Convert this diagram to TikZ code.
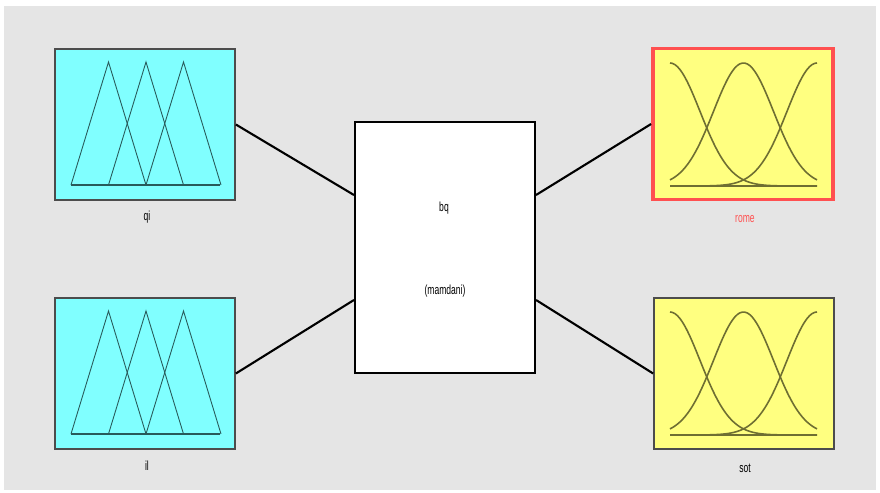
\documentclass[tikz,border=0pt]{standalone}
\usepackage{fontspec}
\setmainfont{Liberation Sans}
\definecolor{panel}{RGB}{229,229,229}
\definecolor{incyan}{RGB}{128,255,255}
\definecolor{outyellow}{RGB}{255,255,128}
\definecolor{mfline}{RGB}{40,90,90}
\definecolor{gaussline}{RGB}{110,110,50}
\definecolor{selred}{RGB}{255,80,80}
\tikzset{
  varbox/.style={draw=black!70, line width=1pt, minimum width=3.6cm, minimum height=3.02cm, inner sep=0pt},
  inbox/.style={varbox, fill=incyan},
  outbox/.style={varbox, fill=outyellow},
  fisbox/.style={draw=black, line width=1.2pt, fill=white, minimum width=3.6cm, minimum height=5.02cm, inner sep=0pt},
  varlabel/.style={font=\fontsize{7.5}{8}\selectfont, xscale=0.65, inner sep=0pt},
  link/.style={line width=1.2pt},
  trimf/.style={draw=mfline, line width=0.5pt},
  gaussmf/.style={draw=gaussline, line width=0.9pt, smooth}
}
\begin{document}
\begin{tikzpicture}[x=0.02cm, y=-0.02cm]
    % Frame and background
    \useasboundingbox (0,0) rectangle (880,493);
    \fill[white] (0,0) rectangle (880,493);
    \fill[panel] (4,6) rectangle (876,490);

    % Input variables
    \node[inbox] (qi) at (145,124.5) {};
    \node[inbox] (il) at (145,373.5) {};

    % Rule box
    \node[fisbox] (fis) at (445,247.5) {};
    \node[varlabel] (fisname) at (444,208) {bq};
    \node[varlabel] (fistype) at (445,291) {(mamdani)};

    % Output variables
    \node[outbox, draw=selred, line width=2.2pt] (rome) at (743,124) {};
    \node[outbox] (sot) at (744,373.5) {};

    % Labels under the boxes
    \node[varlabel] (qilabel) at (147,217) {qi};
    \node[varlabel] (illabel) at (147,466) {il};
    \node[varlabel, text=selred] (romelabel) at (745,219) {rome};
    \node[varlabel] (sotlabel) at (745,468) {sot};

    % Links
    \draw[link] (qi.east) -- ([yshift=1.05cm]fis.west);
    \draw[link] (il.east) -- ([yshift=-1.05cm]fis.west);
    \draw[link] ([yshift=1.05cm]fis.east) -- (rome.west);
    \draw[link] ([yshift=-1.05cm]fis.east) -- (sot.west);

    % Triangular membership functions
    \foreach \dy in {0,249}{
      \draw[trimf, line width=1.5pt] (71,185+\dy) -- (220,185+\dy);
      \foreach \a in {71,108.5,146}{
        \draw[trimf] (\a,185+\dy) -- (\a+37.5,62+\dy) -- (\a+75,185+\dy);
      }
    }

    % Gaussian membership functions
    \foreach \dy in {0,249}{
      \draw[gaussline, line width=1.5pt] (670,186+\dy) -- (817,186+\dy);
      \foreach \c in {670,743.5,817}{
        \draw[gaussmf] plot[domain=670:817, samples=60]
          (\x, {186+\dy-123*exp(-0.5*((\x-\c)/30)^2)});
      }
    }
\end{tikzpicture}
\end{document}
